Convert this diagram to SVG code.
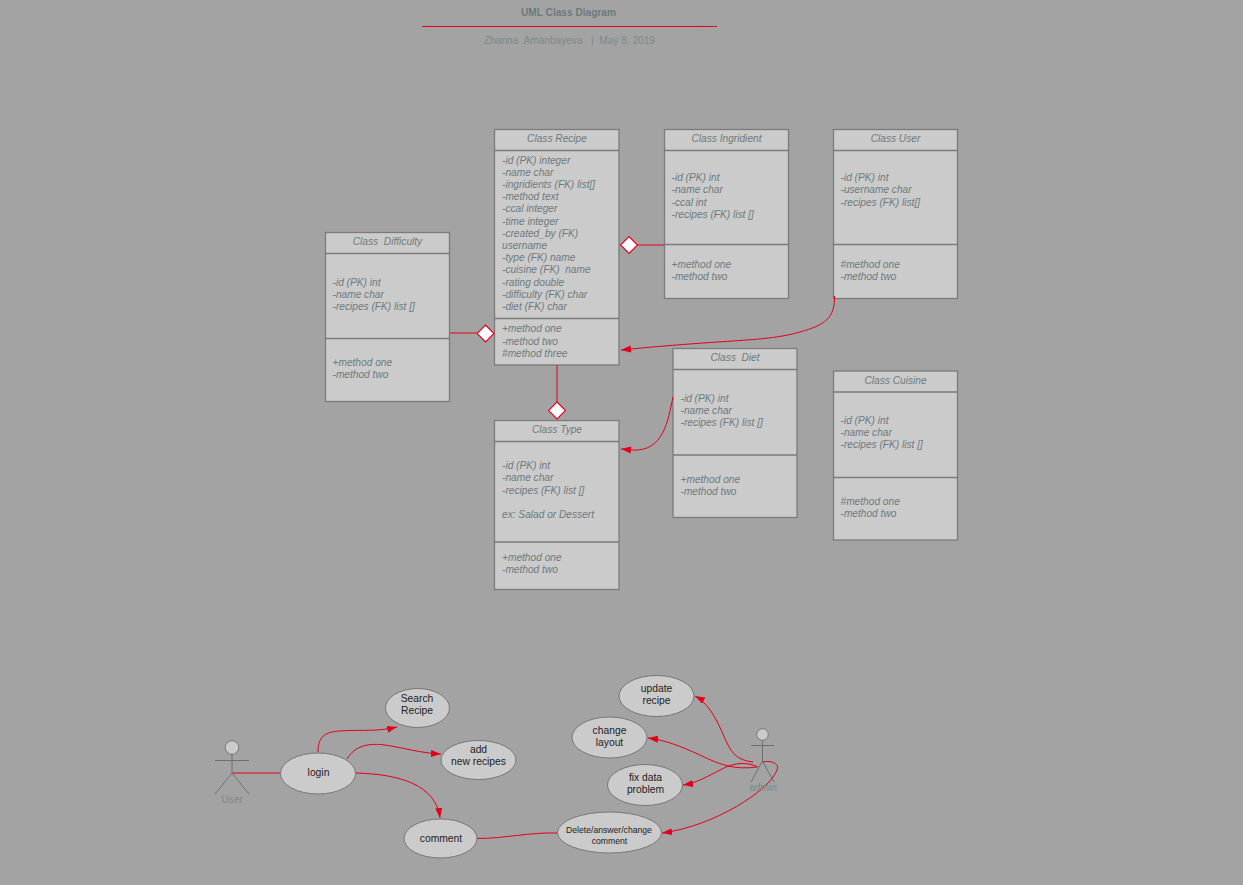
<svg xmlns="http://www.w3.org/2000/svg" width="1243" height="885" viewBox="0 0 1243 885">
<defs>
<marker id="ah" markerUnits="userSpaceOnUse" markerWidth="12" markerHeight="10" refX="10" refY="4" orient="auto"><path d="M0 0.5L10 4L0 7.5Z" fill="#e2001a"/></marker>
</defs>
<style>
text{font-family:"Liberation Sans",Arial,sans-serif;white-space:pre}
.box{fill:#cbcbcb;stroke:#7b7b7b;stroke-width:1.3}
.sep{stroke:#7b7b7b;stroke-width:1.3;fill:none}
.h{font-size:10.17px;font-style:italic;fill:#6b7a7d;text-anchor:middle}
.t{font-size:10.17px;font-style:italic;fill:#6b7a7d}
.c{fill:none;stroke:#e2001a;stroke-width:1}
.ca{fill:none;stroke:#e2001a;stroke-width:1;marker-end:url(#ah)}
.d{fill:#fff;stroke:#e2001a;stroke-width:1.1}
.u{fill:#cbcbcb;stroke:#777;stroke-width:1}
.l{font-size:10.3px;fill:#222;text-anchor:middle}
.a{fill:none;stroke:#6f6f6f;stroke-width:1}
.an{font-size:10.17px;fill:#7a898c;text-anchor:middle}
</style>
<rect width="1243" height="885" fill="#a3a3a3"/>
<g id="title">
<text x="568.500" y="15.500" text-anchor="middle" font-size="10.13" font-weight="bold" fill="#6b7a7d">UML Class Diagram</text>
<line x1="422" y1="26.500" x2="717" y2="26.500" stroke="#e2001a" stroke-width="1"/>
<text x="569.500" y="43.500" text-anchor="middle" font-size="10.13" fill="#7a898c">Zhanna  Amanbayeva   |  May 8, 2019</text>
</g>
<g id="class-difficulty">
<rect class="box" x="325.500" y="232.500" width="124" height="169"/>
<path class="sep" d="M325.500 253.500H449.500M325.500 338.500H449.500"/>
<text class="h" x="387.500" y="245">Class  Difficulty</text>
<text class="t" x="332.500" y="286">-id (PK) int</text>
<text class="t" x="332.500" y="298">-name char</text>
<text class="t" x="332.500" y="310">-recipes (FK) list []</text>
<text class="t" x="332.500" y="366">+method one</text>
<text class="t" x="332.500" y="378">-method two</text>
</g>
<g id="class-recipe">
<rect class="box" x="494.500" y="129.500" width="124.500" height="235.500"/>
<path class="sep" d="M494.500 150.500H619M494.500 318.500H619"/>
<text class="h" x="557" y="142">Class Recipe</text>
<text class="t" x="502" y="164">-id (PK) integer</text>
<text class="t" x="502" y="176">-name char</text>
<text class="t" x="502" y="188">-ingridients (FK) list[]</text>
<text class="t" x="502" y="200">-method text</text>
<text class="t" x="502" y="212">-ccal integer</text>
<text class="t" x="502" y="225">-time integer</text>
<text class="t" x="502" y="237">-created_by (FK)</text>
<text class="t" x="502" y="249">username</text>
<text class="t" x="502" y="261">-type (FK) name</text>
<text class="t" x="502" y="273">-cuisine (FK)  name</text>
<text class="t" x="502" y="286">-rating double</text>
<text class="t" x="502" y="298">-difficulty (FK) char</text>
<text class="t" x="502" y="310">-diet (FK) char</text>
<text class="t" x="502" y="332">+method one</text>
<text class="t" x="502" y="345">-method two</text>
<text class="t" x="502" y="357">#method three</text>
</g>
<g id="class-ingridient">
<rect class="box" x="664.500" y="129.500" width="124" height="169"/>
<path class="sep" d="M664.500 150.500H788.500M664.500 244.500H788.500"/>
<text class="h" x="726.500" y="142">Class Ingridient</text>
<text class="t" x="671.500" y="181">-id (PK) int</text>
<text class="t" x="671.500" y="193">-name char</text>
<text class="t" x="671.500" y="206">-ccal int</text>
<text class="t" x="671.500" y="218">-recipes (FK) list []</text>
<text class="t" x="671.500" y="268">+method one</text>
<text class="t" x="671.500" y="280">-method two</text>
</g>
<g id="class-user">
<rect class="box" x="833.500" y="129.500" width="124" height="169"/>
<path class="sep" d="M833.500 150.500H957.500M833.500 244.500H957.500"/>
<text class="h" x="895.500" y="142">Class User</text>
<text class="t" x="840.500" y="181">-id (PK) int</text>
<text class="t" x="840.500" y="193">-username char</text>
<text class="t" x="840.500" y="206">-recipes (FK) list[]</text>
<text class="t" x="840.500" y="268">#method one</text>
<text class="t" x="840.500" y="280">-method two</text>
</g>
<g id="class-diet">
<rect class="box" x="673" y="348.500" width="124" height="169"/>
<path class="sep" d="M673 369.500H797M673 455H797"/>
<text class="h" x="735" y="361">Class  Diet</text>
<text class="t" x="680.500" y="402">-id (PK) int</text>
<text class="t" x="680.500" y="414">-name char</text>
<text class="t" x="680.500" y="426">-recipes (FK) list []</text>
<text class="t" x="680.500" y="483">+method one</text>
<text class="t" x="680.500" y="495">-method two</text>
</g>
<g id="class-cuisine">
<rect class="box" x="833.500" y="371" width="124" height="169"/>
<path class="sep" d="M833.500 392H957.500M833.500 477.500H957.500"/>
<text class="h" x="895.500" y="384">Class Cuisine</text>
<text class="t" x="840.500" y="424">-id (PK) int</text>
<text class="t" x="840.500" y="436">-name char</text>
<text class="t" x="840.500" y="448">-recipes (FK) list []</text>
<text class="t" x="840.500" y="505">#method one</text>
<text class="t" x="840.500" y="517">-method two</text>
</g>
<g id="class-type">
<rect class="box" x="494.500" y="420.500" width="124.500" height="169"/>
<path class="sep" d="M494.500 441.500H619M494.500 542H619"/>
<text class="h" x="557" y="433">Class Type</text>
<text class="t" x="502" y="469">-id (PK) int</text>
<text class="t" x="502" y="481">-name char</text>
<text class="t" x="502" y="494">-recipes (FK) list []</text>
<text class="t" x="502" y="518">ex: Salad or Dessert</text>
<text class="t" x="502" y="561">+method one</text>
<text class="t" x="502" y="573">-method two</text>
</g>
<g id="connectors">
<path class="c" d="M450 333H477"/>
<path class="d" d="M485.500 325L494 333.500L485.500 342L477 333.500Z"/>
<path class="c" d="M664 245H637"/>
<path class="d" d="M629 236.500L637.500 245L629 253.500L620.500 245Z"/>
<path class="c" d="M557 365V402"/>
<path class="d" d="M557 402L565.500 410.500L557 419L548.500 410.500Z"/>
<path class="ca" d="M834.500 296C835 318 825 325 800 332C765 342 730 339 621 350"/>
<path class="ca" d="M673 397C668 420 664 452 632 450L621 449"/>
<path class="c" d="M232 773H281"/>
<path class="ca" d="M318 752C318 732 330 731 350 730.500C370 730 380 731 397 727"/>
<path class="ca" d="M347 759C355 745 370 743 385 745C405 748 420 753 441 754"/>
<path class="ca" d="M355 773C400 774 436 785 440 818"/>
<path class="c" d="M477 838.500C505 838.500 530 832 558 833"/>
<path class="ca" d="M753 762C738 760 733 755 727 743C720 728 712 705 695 696"/>
<path class="ca" d="M757 767C735 770 720 765 700 755C680 746 665 740 648 738"/>
<path class="ca" d="M758 767C748 762 735 762 722 769C708 776 697 783 683 785"/>
<path class="ca" d="M762 762C772 760 780 764 777 770C770 790 715 826 662 833"/>
</g>
<g id="actor-user">
<circle class="u" cx="232" cy="747.500" r="6.800"/>
<path class="a" d="M232 754V773M215 760.500H249M232 773L215 794M232 773L249 794"/>
<text class="an" x="232" y="802.500">User</text>
</g>
<g id="actor-admin">
<circle class="u" cx="762.500" cy="734.500" r="5.800"/>
<path class="a" d="M762.500 740.500V761M751 745.500H774M762.500 761L751 782M762.500 761L774 782"/>
<text class="an" x="763" y="790.500">admin</text>
</g>
<g id="uc-search"><ellipse class="u" cx="417.500" cy="708" rx="32" ry="19.500"/><text class="l" x="417" y="702">Search</text><text class="l" x="417" y="714">Recipe</text></g>
<g id="uc-login"><ellipse class="u" cx="318" cy="773.500" rx="37.500" ry="20.500"/><text class="l" x="318.500" y="775.500">login</text></g>
<g id="uc-add"><ellipse class="u" cx="478.500" cy="760" rx="37.500" ry="19.500"/><text class="l" x="478.500" y="753">add</text><text class="l" x="478.500" y="765">new recipes</text></g>
<g id="uc-comment"><ellipse class="u" cx="440.500" cy="838.500" rx="36.500" ry="19.500"/><text class="l" x="441" y="841.500">comment</text></g>
<g id="uc-update"><ellipse class="u" cx="656.500" cy="696" rx="37.500" ry="20.500"/><text class="l" x="656.500" y="692">update</text><text class="l" x="656.500" y="704">recipe</text></g>
<g id="uc-layout"><ellipse class="u" cx="609.500" cy="737.500" rx="37.500" ry="20.500"/><text class="l" x="609.500" y="734">change</text><text class="l" x="609.500" y="746">layout</text></g>
<g id="uc-fix"><ellipse class="u" cx="645" cy="785" rx="37.500" ry="20.500"/><text class="l" x="645.500" y="781">fix data</text><text class="l" x="645.500" y="793">problem</text></g>
<g id="uc-delete"><ellipse class="u" cx="609.500" cy="832.500" rx="52" ry="20.500"/><text class="l" style="font-size:8.650px" x="609" y="833">Delete/answer/change</text><text class="l" style="font-size:8.650px" x="609.500" y="844">comment</text></g>
</svg>
